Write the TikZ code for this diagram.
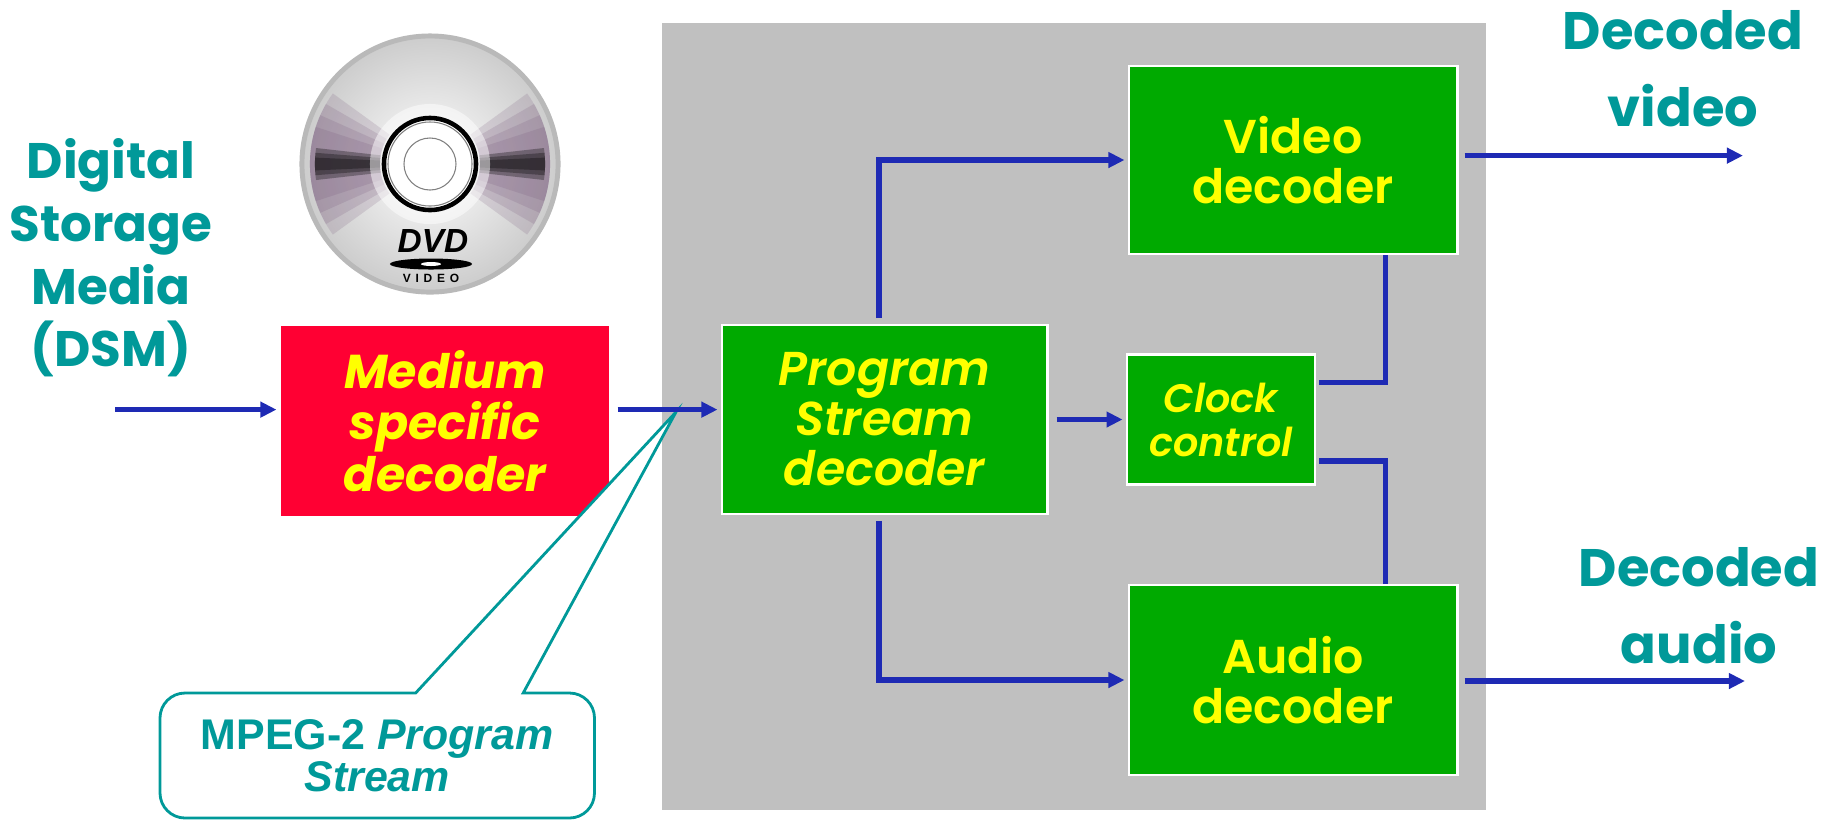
\documentclass[tikz,border=0pt]{standalone}
\usepackage{fontspec}
\usepackage{tikz}
\usetikzlibrary{arrows.meta,positioning,calc}
\newfontfamily\gothic{Poppins}
\newfontfamily\gothicsemi{Poppins SemiBold}[ItalicFont={Poppins SemiBold Italic}]
\newfontfamily\callfont{Liberation Sans}
\definecolor{dsmteal}{HTML}{009999}
\definecolor{blkgreen}{HTML}{00AA00}
\definecolor{blkred}{HTML}{FF0033}
\definecolor{txtyellow}{HTML}{FFFF00}
\definecolor{wireblue}{HTML}{1E2AB4}
\definecolor{panelgrey}{HTML}{C0C0C0}
\definecolor{discpurple}{HTML}{6E4C72}
\tikzset{
  blk/.style={draw=white, line width=0.8pt, fill=blkgreen, text=txtyellow,
    align=center, inner sep=0pt, font=\gothicsemi\fontsize{13.5}{14}\selectfont},
  itblk/.style={blk, font=\gothicsemi\itshape\fontsize{13.5}{14.2}\selectfont},
  sidelabel/.style={text=dsmteal, align=center, font=\gothic\bfseries\fontsize{14.2}{17.8}\selectfont},
  outlabel/.style={text=dsmteal, align=center, font=\gothic\bfseries\fontsize{15}{21.8}\selectfont},
  wire/.style={line width=1.6pt, wireblue},
  flow/.style={wire, -{Triangle[length=0.16cm, width=0.15cm]}, shorten >=0.03cm},
}

\begin{document}
\begin{tikzpicture}[x=0.01cm, y=-0.01cm]
\useasboundingbox (0,0) rectangle (1835,820);

% ---- grey decoder panel ----
\node[fill=panelgrey, minimum width=8.24cm, minimum height=7.87cm, inner sep=0pt] (panel) at (1074,416.5) {};

% ---- DVD disc ----
\coordinate (disc) at (430,164);
\shade[inner color=white, outer color=gray!40] (disc) circle (1.29cm);
\foreach \w in {36,30,24,18} {
  \foreach \a in {0,180} {
    \fill[discpurple, opacity=0.17] ($(disc)+(\a-\w:0.5cm)$) arc[start angle=\a-\w, end angle=\a+\w, radius=0.5cm]
      -- ($(disc)+(\a+\w:1.2cm)$) arc[start angle=\a+\w, end angle=\a-\w, radius=1.2cm] -- cycle;
  }
}
\foreach \w in {10,7,4} {
  \foreach \a in {0,180} {
    \fill[black, opacity=0.3] ($(disc)+(\a-\w:0.5cm)$) arc[start angle=\a-\w, end angle=\a+\w, radius=0.5cm]
      -- ($(disc)+(\a+\w*0.8:1.15cm)$) arc[start angle=\a+\w*0.8, end angle=\a-\w*0.8, radius=1.15cm] -- cycle;
  }
}
\draw[gray!55, line width=1.4pt] (disc) circle (1.28cm);
\fill[white, opacity=0.5] (disc) circle (0.6cm);
\fill[white] (disc) circle (0.47cm);
\draw[black, line width=1.3pt] (disc) circle (0.46cm);
\draw[gray, line width=0.3pt] (disc) circle (0.42cm);
\draw[gray, line width=0.3pt] (disc) circle (0.26cm);
\node[font=\callfont\bfseries\itshape\fontsize{9.5}{9.5}\selectfont, inner sep=0pt] (dvdtxt) at (433,241) {DVD};
\fill[black] (431,264) ellipse [x radius=0.41cm, y radius=0.055cm];
\fill[white] (431,264) ellipse [x radius=0.1cm, y radius=0.02cm];
\node[font=\callfont\bfseries\fontsize{3.4}{4}\selectfont\addfontfeature{LetterSpace=40}, inner sep=0pt] (vidtxt) at (431,278) {VIDEO};

% ---- blocks ----
\node[itblk, fill=blkred, draw=none, minimum width=3.28cm, minimum height=1.90cm,
  font=\gothic\bfseries\itshape\fontsize{13.5}{14.6}\selectfont] (msd) at (445,421) {Medium\\specific\\decoder};
\node[itblk, minimum width=3.25cm, minimum height=1.89cm] (psd) at (884.5,419.5) {Program\\Stream\\decoder};
\node[blk, minimum width=3.28cm, minimum height=1.88cm] (vid) at (1293,160) {Video\\decoder};
\node[blk, minimum width=1.88cm, minimum height=1.30cm, font=\gothicsemi\itshape\fontsize{11.3}{12.5}\selectfont] (clk) at (1221,419.5) {Clock\\control};
\node[blk, minimum width=3.28cm, minimum height=1.90cm] (aud) at (1293,680) {Audio\\decoder};

% ---- outside labels ----
\node[sidelabel] (dsm) at (111,258) {Digital\\Storage\\Media\\(DSM)};
\node[outlabel] (vlab) at (1683,69) {Decoded\\video};
\node[outlabel] (alab) at (1699,606) {Decoded\\audio};

% ---- callout for the stream between the decoders ----
\coordinate (apex) at (676,412);
\coordinate (cnw) at (160,693);
\coordinate (cse) at (594.5,818);
\draw[dsmteal, line width=0.8pt, fill=white, rounded corners=0.25cm]
  ([xshift=2.555cm]cnw) [sharp corners] -- (apex) -- ([xshift=3.63cm]cnw) [rounded corners=0.25cm]
  -- (cse |- cnw) -- (cse) -- (cnw |- cse) -- (cnw) [sharp corners] -- cycle;
\node[text=dsmteal, align=center, font=\callfont\bfseries\fontsize{12.2}{12}\selectfont] (cap)
  at ($(cnw)!0.5!(cse)$) {MPEG-2 \textit{Program}\\\textit{Stream}};

% ---- signal wires ----
\coordinate (dsmin) at (115,409.6);
\coordinate (vout) at (1746,155.6);
\coordinate (aout) at (1748,681);
\draw[flow] (dsmin) -- (msd.west |- dsmin);
\draw[flow, shorten <=0.07cm] (msd.east |- dsmin) -- (psd.west |- dsmin);
\draw[flow, shorten <=0.055cm] ([xshift=-0.055cm]psd.north) |- (vid.west);
\draw[flow, shorten <=0.055cm] ([xshift=-0.055cm]psd.south) |- (aud.west);
\draw[flow, shorten <=0.08cm] (psd.east) -- (clk.west);
\draw[wire, shorten <=0.03cm] ([yshift=0.37cm]clk.east) -| ([xshift=0.926cm]vid.south);
\draw[wire, shorten <=0.03cm] ([yshift=-0.415cm]clk.east) -| ([xshift=0.926cm]aud.north);
\draw[flow, shorten <=0.06cm] (vid.east |- vout) -- (vout);
\draw[flow, shorten <=0.06cm] (aud.east |- aout) -- (aout);

\end{tikzpicture}
\end{document}
